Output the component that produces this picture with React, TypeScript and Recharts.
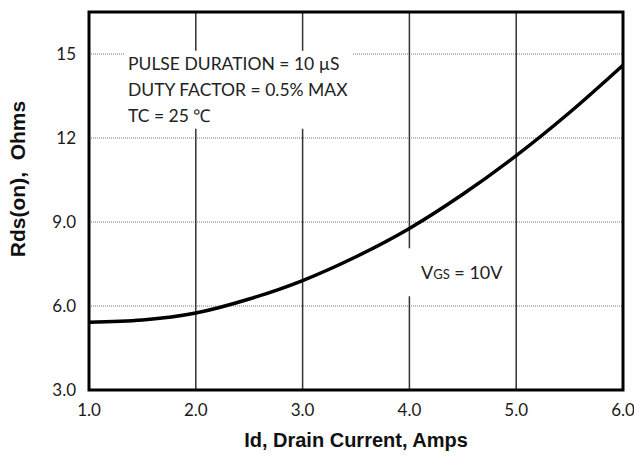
import React from "react";
import { LineChart, Line, XAxis, YAxis, CartesianGrid, ReferenceArea } from "recharts";

const currentAmps = [1.0, 1.5, 2.0, 2.5, 3.0, 3.5, 4.0, 4.5, 5.0, 5.5, 6.0];
const rdsOhms = [5.42, 5.5, 5.75, 6.25, 6.91, 7.76, 8.77, 9.99, 11.37, 12.91, 14.6];
const xTicks = [1, 2, 3, 4, 5, 6];
const yTicks = [3, 6, 9, 12, 15];
const notes = ["PULSE DURATION = 10 µS", "DUTY FACTOR = 0.5% MAX", "TC = 25 ℃"];

const data = currentAmps.map((x, i) => ({ x, y: rdsOhms[i] }));

const tickFont = { fontFamily: "Lato, 'Open Sans', sans-serif", fontSize: 17, fill: "#1a1a1a" };
const fmtY = (v: number) => (v >= 10 ? String(v) : v.toFixed(1));

export default function App() {
  return (
    <div style={{ position: "absolute", left: 0, top: 0, width: 634, height: 458, background: "#fff" }}>
      <LineChart width={634} height={458} data={data} margin={{ top: 12, right: 11, left: 0, bottom: 0 }}>
        <CartesianGrid vertical={false} stroke="#777" strokeWidth={1} strokeDasharray="1 1" />
        <CartesianGrid horizontal={false} stroke="#333" strokeWidth={1.5} />
        <XAxis
          dataKey="x"
          type="number"
          domain={[1, 6]}
          ticks={xTicks}
          tickFormatter={(v: number) => v.toFixed(1)}
          tickLine={false}
          axisLine={false}
          tickSize={6}
          tickMargin={8}
          height={68}
          tick={tickFont}
          interval={0}
        />
        <YAxis
          type="number"
          domain={[3, 16.5]}
          ticks={yTicks}
          tickFormatter={fmtY}
          tickLine={false}
          axisLine={false}
          tickSize={6}
          tickMargin={7}
          width={89}
          tick={tickFont}
          interval={0}
        />
        <ReferenceArea x1={1.33} x2={3.47} y1={12.33} y2={15.12} fill="#fff" fillOpacity={1} stroke="none" />
        <ReferenceArea x1={3.9} x2={4.9} y1={6.35} y2={8.06} fill="#fff" fillOpacity={1} stroke="none" />
        <Line
          dataKey="y"
          type="monotone"
          stroke="#000"
          strokeWidth={3.5}
          dot={false}
          isAnimationActive={false}
        />
        <ReferenceArea x1={1} x2={6} y1={3} y2={16.5} fill="none" stroke="#000" strokeWidth={3} />
      </LineChart>
      <svg width={634} height={458} style={{ position: "absolute", left: 0, top: 0, pointerEvents: "none" }}>
        {notes.map((t, i) => (
          <text key={t} x={128} y={70 + i * 26} fontFamily="Lato, 'Open Sans', sans-serif" fontSize={17.5} fill="#222">
            {t}
          </text>
        ))}
        <text x={421} y={279} fontFamily="Lato, 'Open Sans', sans-serif" fontSize={18} fill="#222">
          V<tspan fontSize={13}>GS</tspan> = 10V
        </text>
        <text
          x={356}
          y={447}
          textAnchor="middle"
          fontFamily="'Liberation Sans', Arial, sans-serif"
          fontWeight="bold"
          fontSize={20}
          fill="#111"
        >
          Id, Drain Current, Amps
        </text>
        <text
          transform="translate(25,179) rotate(-90)"
          textAnchor="middle"
          fontFamily="'Liberation Sans', Arial, sans-serif"
          fontWeight="bold"
          fontSize={21}
          fill="#111"
          style={{ whiteSpace: "pre" }}
        >
          {"Rds(on),  Ohms"}
        </text>
      </svg>
    </div>
  );
}
